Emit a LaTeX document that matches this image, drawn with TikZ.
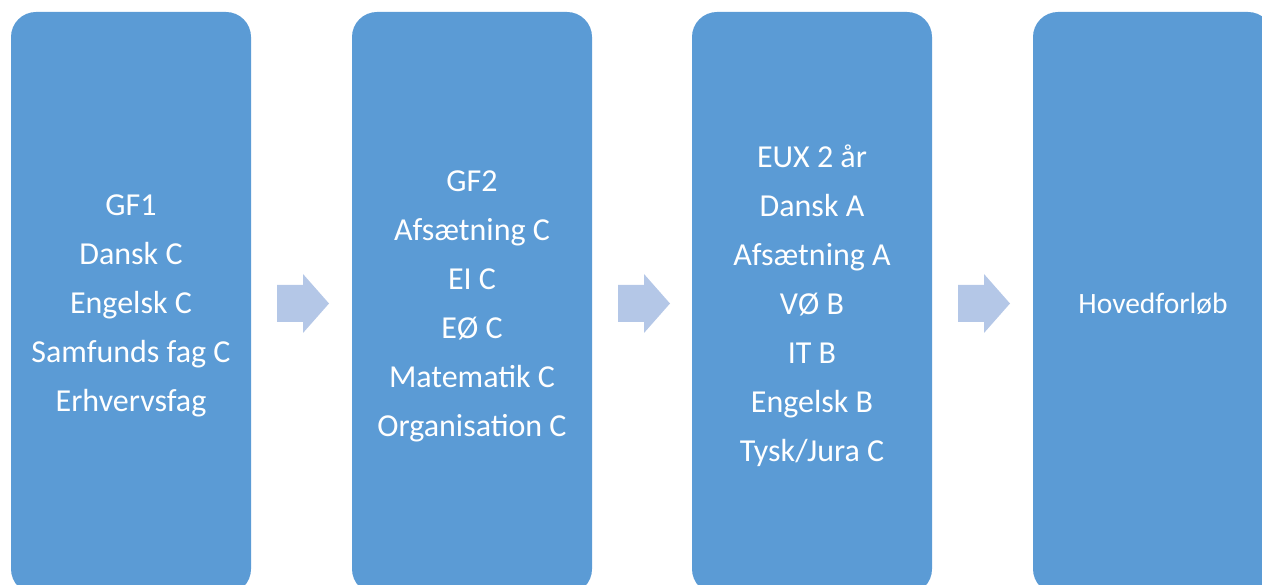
\documentclass[tikz,border=0pt]{standalone}
\usepackage{fontspec}
\setmainfont{Carlito}
\definecolor{boxblue}{HTML}{5B9BD5}
\definecolor{arrowblue}{HTML}{B4C7E7}
\begin{document}
\begin{tikzpicture}[x=1pt,y=1pt,
  stage/.style={fill=boxblue, rounded corners=25pt, minimum width=240pt, minimum height=582pt, inner sep=0pt},
  stagetext/.style={text=white, align=center, font=\fontsize{32}{49}\selectfont},
  flowarrow/.style={fill=arrowblue}]
\useasboundingbox (0,0) rectangle (1262,-585);
\begin{scope}
\clip (0,0) rectangle (1262,-585);
\node[stage] (b1) at (131,-303) {};
\node[stage] (b2) at (472,-303) {};
\node[stage] (b3) at (812,-303) {};
\node[stage] (b4) at (1153,-303) {};
\end{scope}
\node[stagetext] (t1) at ([yshift=-3pt]b1.center) {GF1\\Dansk C\\Engelsk C\\Samfunds fag C\\Erhvervsfag};
\node[stagetext] (t2) at ([yshift=-3pt]b2.center) {GF2\\Afsætning C\\EI C\\EØ C\\Matematik C\\Organisation C};
\node[stagetext] (t3) at ([yshift=-3pt]b3.center) {EUX 2 år\\Dansk A\\Afsætning A\\VØ B\\IT B\\Engelsk B\\Tysk/Jura C};
\node[stagetext, font=\fontsize{29.5}{49}\selectfont] (t4) at ([yshift=-0.5pt]b4.center) {Hovedforløb};
\foreach \x in {277,618,958}{
  \fill[flowarrow] (\x,-285) -- (\x+26,-285) -- (\x+26,-274) -- (\x+52,-303.5) -- (\x+26,-333) -- (\x+26,-322) -- (\x,-322) -- cycle;
}
\end{tikzpicture}
\end{document}
